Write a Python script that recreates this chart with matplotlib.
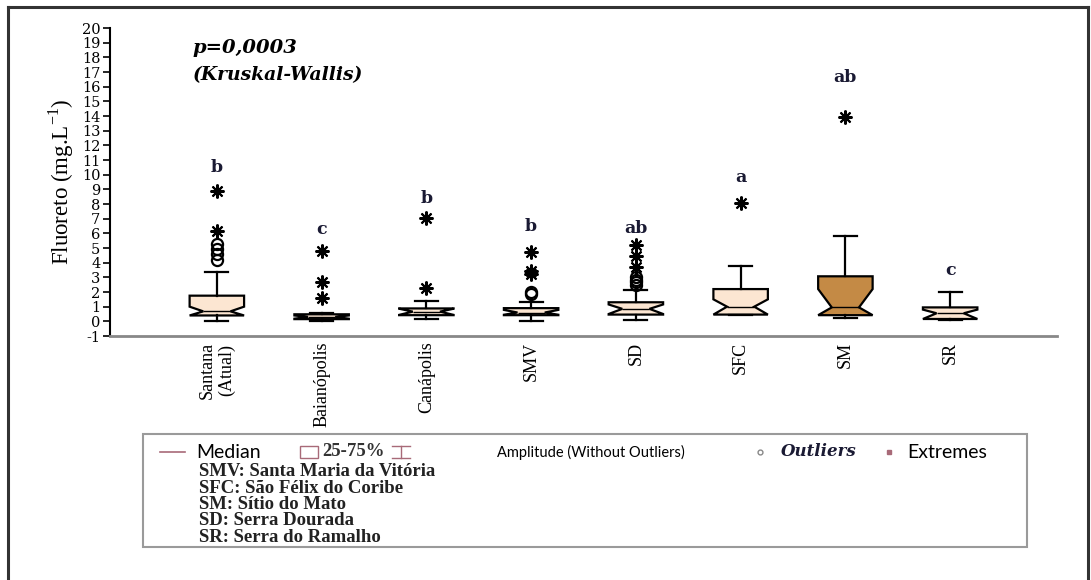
import matplotlib
matplotlib.use("Agg")
import matplotlib.pyplot as plt
from matplotlib.lines import Line2D
from matplotlib.patches import Rectangle
import numpy as np

# ---------------- data ----------------
categories = ["Santana\n(Atual)", "Baianópolis", "Canápolis", "SMV", "SD", "SFC", "SM", "SR"]
whislo = [0.05, 0.03, 0.15, 0.02, 0.07, 0.42, 0.22, 0.12]
q1     = [0.40, 0.15, 0.42, 0.42, 0.46, 0.46, 0.42, 0.16]
cilo   = [0.40, 0.18, 0.44, 0.45, 0.50, 0.46, 0.42, 0.16]
med    = [0.68, 0.30, 0.66, 0.60, 0.85, 1.00, 0.95, 0.55]
cihi   = [1.00, 0.40, 0.86, 0.78, 1.15, 1.50, 2.20, 0.80]
q3     = [1.75, 0.48, 0.88, 0.90, 1.30, 2.20, 3.07, 0.95]
whishi = [3.35, 0.57, 1.38, 1.35, 2.16, 3.75, 5.84, 1.98]
outliers = [[4.2, 4.6, 4.95, 5.3], [], [], [1.88, 2.0], [2.5, 2.68, 2.85, 3.02], [], [], []]
extremes = [[6.15, 8.9], [1.6, 2.65, 4.77], [2.3, 7.05], [3.25, 3.42, 4.75],
            [3.72, 4.43, 5.18], [8.1], [13.9], []]
letters = ["b", "c", "b", "b", "ab", "a", "ab", "c"]
letter_y = [10.5, 6.25, 8.35, 6.5, 6.3, 9.8, 16.6, 3.5]
fills = ["#fce6d2", "#fce6d2", "#fce6d2", "#fce6d2", "#fce6d2", "#fce6d2", "#c48a45", "#fce6d2"]
yticks = list(range(-1, 21))
abbrevs = ["SMV: Santa Maria da Vitória", "SFC: São Félix do Coribe", "SM: Sítio do Mato",
           "SD: Serra Dourada", "SR: Serra do Ramalho"]

W, H = 1091, 580
fig = plt.figure(figsize=(W / 100, H / 100), dpi=100)
fig.patch.set_facecolor("white")

def fx(x):
    return x / W

def fy(y):
    return 1 - y / H

ax = fig.add_axes([fx(110), fy(336), fx(1057) - fx(110), fy(28) - fy(336)])
positions = np.arange(1, len(categories) + 1)

stats = []
for i in range(len(categories)):
    stats.append(dict(med=med[i], q1=q1[i], q3=q3[i], whislo=whislo[i], whishi=whishi[i],
                      cilo=cilo[i], cihi=cihi[i], fliers=[]))

bp = ax.bxp(stats, positions=positions, widths=0.52, shownotches=True, patch_artist=True,
            showfliers=False, capwidths=0.22,
            boxprops=dict(edgecolor="black", linewidth=1.6),
            whiskerprops=dict(color="black", linewidth=1.6),
            capprops=dict(color="black", linewidth=1.6),
            medianprops=dict(color="black", linewidth=1.0))
for patch, c in zip(bp["boxes"], fills):
    patch.set_facecolor(c)

for p, vals in zip(positions, outliers):
    if vals:
        ax.plot([p] * len(vals), vals, linestyle="none", marker="o", markersize=8,
                markerfacecolor="none", markeredgecolor="black", markeredgewidth=1.6)
for p, vals in zip(positions, extremes):
    if vals:
        ax.plot([p] * len(vals), vals, linestyle="none", marker=(8, 2, 0), markersize=10,
                color="black", markeredgewidth=1.5)
for p, t, y in zip(positions, letters, letter_y):
    ax.text(p, y, t, ha="center", va="center", fontsize=12.5, fontweight="bold",
            family="DejaVu Serif", color="#1a1a33")

ax.set_xlim(-0.02, 9.02)
ax.set_ylim(-1, 20)
ax.set_yticks(yticks)
ax.set_yticklabels([str(v) for v in yticks], family="DejaVu Serif", fontsize=10.5)
ax.set_xticks(positions)
ax.set_xticklabels(categories, rotation=90, family="Liberation Serif", fontsize=13,
                   va="top", ha="center", multialignment="center")
ax.tick_params(axis="x", length=0, pad=4)
ax.tick_params(axis="y", length=5, width=1.2, pad=2, direction="out")
ax.spines["top"].set_visible(False)
ax.spines["right"].set_visible(False)
ax.spines["left"].set_linewidth(1.5)
ax.spines["bottom"].set_color("#888888")
ax.spines["bottom"].set_linewidth(2)
ax.set_ylabel(r"Fluoreto (mg.L$^{\mathregular{-1}}$)", family="Liberation Serif", fontsize=16.5,
              labelpad=4)
ax.set_facecolor("white")

fig.text(fx(193), fy(48), "p=0,0003", family="DejaVu Serif", style="italic",
         fontweight="bold", fontsize=14, va="center", ha="left")
fig.text(fx(193), fy(75), "(Kruskal-Wallis)", family="DejaVu Serif", style="italic",
         fontweight="bold", fontsize=13.5, va="center", ha="left")

# outer frame
fc = "#333333"
fig.add_artist(Line2D([fx(8), fx(1088)], [fy(7), fy(7)], color=fc, lw=2.2))
fig.add_artist(Line2D([fx(8), fx(8)], [fy(7), 0], color=fc, lw=2.2))
fig.add_artist(Line2D([fx(1088), fx(1088)], [fy(7), 0], color=fc, lw=2.2))

# legend box
fig.add_artist(Rectangle((fx(143), fy(547)), fx(1027) - fx(143), fy(434) - fy(547),
                         fill=False, edgecolor="#9a9a9a", lw=1.5))
rose = "#a86a78"
ly = fy(452)
fig.add_artist(Line2D([fx(160), fx(185)], [ly, ly], color=rose, lw=1.2))
fig.text(fx(196), ly, "Median", family=["Lato", "DejaVu Sans"], fontsize=14, va="center")
fig.add_artist(Rectangle((fx(300), fy(458)), fx(318) - fx(300), fy(446) - fy(458),
                         fill=False, edgecolor=rose, lw=1.0))
fig.text(fx(322), ly, "25-75%", family="Liberation Serif", fontweight="bold", fontsize=13.5,
         va="center", color="#333333")
# whisker icon
fig.add_artist(Line2D([fx(392), fx(410)], [fy(446), fy(446)], color=rose, lw=1.0))
fig.add_artist(Line2D([fx(392), fx(410)], [fy(458), fy(458)], color=rose, lw=1.0))
fig.add_artist(Line2D([fx(401), fx(401)], [fy(446), fy(458)], color=rose, lw=1.0))
fig.text(fx(497), ly, "Amplitude (Without Outliers)", family=["Lato", "DejaVu Sans"],
         fontsize=10.5, va="center")
fig.add_artist(Line2D([fx(760)], [ly], marker="o", markersize=3.5, markerfacecolor="none",
                      markeredgecolor="#888888", lw=0))
fig.text(fx(781), ly, "Outliers", family="DejaVu Serif", style="italic", fontweight="bold",
         fontsize=12, va="center", color="#1a1a33")
fig.add_artist(Line2D([fx(889)], [ly], marker="s", markersize=3, color=rose, lw=0))
fig.text(fx(907), ly, "Extremes", family=["Lato", "DejaVu Sans"], fontsize=14, va="center")
for k, t in enumerate(abbrevs):
    fig.text(fx(199), fy(472 + k * 16.3), t, family="Liberation Serif", fontweight="bold",
             fontsize=13.5, va="center", color="#222222")

fig.savefig("out.png", dpi=100, facecolor="white")
